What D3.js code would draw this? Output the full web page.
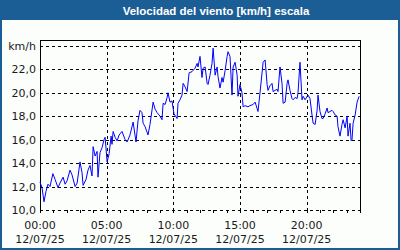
<!DOCTYPE html>
<html><head><meta charset="utf-8">
<script src="https://cdn.jsdelivr.net/npm/d3@7"></script>
<style>html,body{margin:0;padding:0;background:#fff;}svg{display:block;}</style>
</head><body>
<script>
const title = "Velocidad del viento [km/h] escala";
const unitLabel = "km/h";
const dateLabel = "12/07/25";
const xTickHours = [0, 5, 10, 15, 20];
const yTickValues = [10, 12, 14, 16, 18, 20, 22];
// minutes since midnight
const minutes = [0,9,18,27,36,45,58,68,81,90,104,113,122,135,144,158,167,180,189,194,207,216,225,234,239,248,257,261,270,279,288,293,302,311,320,324,329,338,347,356,369,383,392,405,419,432,441,450,459,464,473,486,495,509,518,527,540,549,554,563,572,576,585,594,603,617,621,630,639,644,653,662,671,684,698,707,711,720,729,734,743,752,756,765,774,779,788,797,801,810,819,824,833,842,846,855,864,869,878,887,891,900,909,914,923,936,945,959,968,981,990,1004,1013,1022,1026,1035,1044,1049,1058,1067,1071,1080,1089,1094,1103,1112,1116,1125,1134,1139,1148,1157,1161,1170,1179,1184,1193,1202,1206,1215,1224,1229,1238,1247,1251,1260,1269,1274,1283,1292,1296,1305,1314,1319,1328,1337,1341,1350,1359,1364,1373,1382,1386,1395,1400,1404,1409,1418,1427,1436];
const speed = [12.4,11.9,10.7,11.6,12.2,12.0,13.1,12.6,11.9,12.3,12.8,12.2,12.5,13.4,13.0,12.0,12.3,14.1,13.2,12.1,12.6,13.4,13.8,12.9,15.4,14.6,15.0,12.8,14.9,15.3,16.0,16.2,14.1,14.8,16.3,15.6,16.7,16.2,15.9,16.4,16.7,16.0,15.8,16.4,17.5,15.8,17.6,18.5,18.3,17.4,17.1,16.4,17.3,19.2,18.6,18.3,18.0,17.7,19.1,19.0,19.6,20.0,19.2,19.3,18.2,17.8,19.1,19.4,19.8,20.8,20.5,20.1,21.7,21.8,22.1,22.5,22.2,23.1,21.3,22.1,22.2,20.8,20.7,21.5,22.5,23.8,21.5,22.2,21.4,20.4,21.3,20.9,21.9,23.1,23.5,23.1,19.8,22.2,22.6,21.5,19.7,20.7,20.0,18.8,18.9,18.8,18.9,19.0,19.2,18.4,20.0,22.6,22.8,20.7,20.2,20.6,20.8,20.1,20.2,20.3,20.1,22.2,20.8,19.1,19.2,20.8,21.1,20.2,19.5,19.4,19.6,19.5,20.0,22.6,19.4,19.7,19.4,19.7,19.8,19.5,18.1,17.4,17.3,18.5,19.8,18.4,17.8,17.8,18.2,18.7,18.3,18.4,18.5,18.4,18.1,18.0,17.1,16.3,17.3,17.7,17.0,18.0,16.3,17.4,15.9,16.0,17.4,18.1,19.2,19.7];

const W = 400, H = 250;
const blue = "#1b5e96";
const svg = d3.select("body").append("svg").attr("width", W).attr("height", H);
svg.append("rect").attr("width", W).attr("height", H).attr("fill", blue);
svg.append("rect").attr("x", 2).attr("y", 20).attr("width", W - 4).attr("height", H - 22).attr("fill", "#fcfefc");
svg.append("text").attr("x", 216).attr("y", 14.5).attr("text-anchor", "middle")
  .attr("fill", "#fff").attr("font-family", "Liberation Sans, Arial, sans-serif")
  .attr("font-weight", "bold").attr("font-size", 11.5).text(title);

const L = 40, R = 360, T = 40, B = 210;
const x = d3.scaleLinear().domain([0, 1440]).range([L, R]);
const y = d3.scaleLinear().domain([10, 24]).range([B, B - 7 * 23.45]);

const font = "Tahoma, DejaVu Sans, sans-serif";
const g = svg.append("g");

// horizontal gridlines (including unit line at 24)
const gridY = yTickValues.concat([24]);
g.selectAll(".hg").data(gridY).enter().append("line")
  .attr("x1", L).attr("x2", R)
  .attr("y1", d => Math.round(y(d)) + 0.5).attr("y2", d => Math.round(y(d)) + 0.5)
  .attr("stroke", "#000").attr("stroke-dasharray", "3,3").attr("shape-rendering", "crispEdges");
// vertical gridlines
g.selectAll(".vg").data(xTickHours.slice(1)).enter().append("line")
  .attr("x1", d => Math.round(x(d * 60)) + 0.5).attr("x2", d => Math.round(x(d * 60)) + 0.5)
  .attr("y1", T).attr("y2", B)
  .attr("stroke", "#000").attr("stroke-dasharray", "3,3").attr("shape-rendering", "crispEdges");

// hourly ticks below
const hours = d3.range(0, 25);
g.selectAll(".tk").data(hours).enter().append("line")
  .attr("x1", d => Math.round(x(d * 60)) + 0.5).attr("x2", d => Math.round(x(d * 60)) + 0.5)
  .attr("y1", B).attr("y2", B + 3)
  .attr("stroke", "#000").attr("shape-rendering", "crispEdges");

// frame: left, top, right solid
const fr = d3.path();
fr.moveTo(L + 0.5, B + 3); fr.lineTo(L + 0.5, T + 0.5); fr.lineTo(R + 0.5, T + 0.5); fr.lineTo(R + 0.5, B + 3);
g.append("path").attr("d", fr.toString()).attr("fill", "none").attr("stroke", "#000").attr("shape-rendering", "crispEdges");

// y labels
g.selectAll(".yl").data(yTickValues).enter().append("text")
  .attr("x", 36).attr("y", d => y(d) + 4).attr("text-anchor", "end")
  .attr("font-family", font).attr("font-size", 11).attr("fill", "#1a1a1a")
  .text(d => d.toFixed(1).replace(".", ","));
g.append("text").attr("x", 36).attr("y", y(24) + 4).attr("text-anchor", "end")
  .attr("font-family", font).attr("font-size", 11).attr("fill", "#1a1a1a").text(unitLabel);

// x labels
const xl = g.selectAll(".xl").data(xTickHours).enter().append("g");
xl.append("text").attr("x", d => x(d * 60)).attr("y", 229).attr("text-anchor", "middle")
  .attr("font-family", font).attr("font-size", 11).attr("fill", "#1a1a1a")
  .text(d => String(d).padStart(2, "0") + ":00");
xl.append("text").attr("x", d => x(d * 60)).attr("y", 243).attr("text-anchor", "middle")
  .attr("font-family", font).attr("font-size", 11).attr("fill", "#1a1a1a")
  .text(dateLabel);

// series
const pts = minutes.map((m, i) => [m, speed[i]]);
const line = d3.line().x(d => x(d[0])).y(d => y(d[1]));
g.append("path").datum(pts).attr("d", line).attr("fill", "none")
  .attr("stroke", "#0000ff").attr("stroke-width", 1);
</script>
</body></html>
